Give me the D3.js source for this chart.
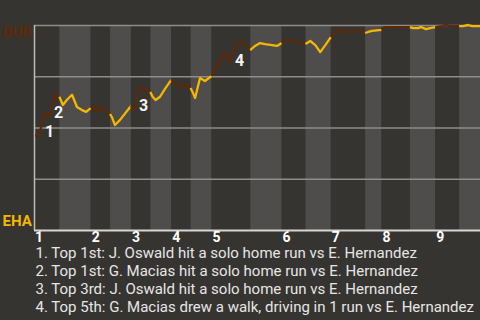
<!DOCTYPE html>
<html><head><meta charset="utf-8">
<script src="https://cdn.jsdelivr.net/npm/d3@7"></script>
<style>
html,body{margin:0;padding:0;background:#363431;}
svg{display:block;font-family:Roboto, "Noto Sans", sans-serif;}
</style></head><body>
<svg id="c" width="480" height="320"></svg>
<script>
// pitches per half inning (top 1st, bottom 1st, top 2nd, ...)
const halfInningPitches = [17,21,13,14,13,14,13,14,26,21,16,17,23,11,19,17,16,14];
const inningLabels = ["1","2","3","4","5","6","7","8","9"];
const awayTeam = "DUB";
const homeTeam = "EHA";
const gridValues = [25,50,75,100];
// [pitch index, DUB win probability %]
const wpPoints = [
  [0.7,46],[3.4,46],[4.7,50],[5.4,53],[7.4,57],[10,57],[11.4,56],[14,66],[17,65],
  [19.4,61],[22,63.4],[25.5,66],[28.8,60],[32.2,58.5],[35,57.6],[38,59.5],
  [39.6,60],[42.2,58],[44.2,60.5],[46.9,58.5],[51,56.6],
  [52.5,54.6],[54.3,51.2],[57.7,53.7],[65,60.5],
  [66.4,58.5],[68.4,60],[71,69.8],[74.4,68.8],[78,67.3],
  [79.5,65],[81.5,63.4],[84.5,65],[87.8,68.8],[92,73.2],
  [94.5,71.7],[97.9,69.8],[101.2,71.2],[105,69.3],
  [106.5,67],[108,64.4],[111.3,74.1],[114.6,72.7],[119,75.1],
  [121.3,78],[128,86.8],[131.4,82],[134.7,89.3],[138.1,92.7],[145,87.8],
  [148.2,89.8],[151.5,91.2],[154.9,90.7],[159.6,90.2],[162.9,89.8],[166,91.2],
  [169.1,92.7],[172.5,92.2],[175.8,91.7],[179.2,91.2],[182,90.7],
  [185.2,92.2],[188.6,90.2],[191.9,86.8],[195.3,90.2],[199,94.1],
  [202,96.6],[205.3,97.1],[209.4,96.6],[213.4,96.6],[216.8,97.1],[222,96.1],
  [224,96.6],[226.6,97.1],[233,97.6],
  [235.3,99],[252,99],
  [254,98.5],[257.4,98.5],[259.4,99],[262.8,98],[265.5,98.5],[269,99],
  [273.5,99.5],[276.2,100],[278.9,99.5],[285,99.5],
  [287.7,99.5],[291,100],[293.7,99.5],[299,99.5]
];
// key events: [pitch index, win prob %]
const eventNums = ["1","2","3","4"];
const eventPos = [[7.4,46.8],[13.4,56.1],[70.4,59.5],[134.7,81.5]];
const eventTexts = [
  "1. Top 1st: J. Oswald hit a solo home run vs E. Hernandez",
  "2. Top 1st: G. Macias hit a solo home run vs E. Hernandez",
  "3. Top 3rd: J. Oswald hit a solo home run vs E. Hernandez",
  "4. Top 5th: G. Macias drew a walk, driving in 1 run vs E. Hernandez"
];

const svg = d3.select("#c");
const W = 480, H = 320;
const m = {left:34, right:0, top:25, bottom:90};
const total = d3.sum(halfInningPitches);
const x = d3.scaleLinear().domain([0,total]).range([m.left, W-m.right]);
const y = d3.scaleLinear().domain([0,100]).range([H-m.bottom, m.top]);
const awayColor = "#5c2a08", homeColor = "#f5b700";

const starts = d3.cumsum([0, ...halfInningPitches]);
const halves = halfInningPitches.map((n,i)=>({i, s:starts[i], e:starts[i+1]}));

svg.append("rect").attr("width",W).attr("height",H).attr("fill","#363431");

svg.append("g").selectAll("rect").data(halves).join("rect")
  .attr("x", d=>x(d.s)).attr("width", d=>x(d.e)-x(d.s))
  .attr("y", y(100)).attr("height", y(0)-y(100))
  .attr("fill", d=> d.i%2===0 ? "#363431" : "#4e4d4b");

svg.append("g").selectAll("line").data(gridValues).join("line")
  .attr("x1", x(0)).attr("x2", x(total))
  .attr("y1", d=>y(d)+0.5).attr("y2", d=>y(d)+0.5)
  .attr("stroke", "#8e8d8b").attr("stroke-width",1.5);

// axes
svg.append("line").attr("x1", x(0)+0.5).attr("x2", x(0)+0.5)
  .attr("y1", y(100)).attr("y2", y(0)).attr("stroke","#bdbdbd").attr("stroke-width",1.5);
svg.append("line").attr("x1", x(0)).attr("x2", x(total))
  .attr("y1", y(0)+0.5).attr("y2", y(0)+0.5).attr("stroke","#d6d6d6").attr("stroke-width",2);

const line = d3.line().x(d=>x(d[0])).y(d=>y(d[1]));
svg.append("g").selectAll("path").data(halves).join("path")
  .attr("d", h => line(wpPoints.filter(p=>p[0]>=h.s && p[0]<=h.e)))
  .attr("fill","none")
  .attr("stroke", h=> h.i%2===0 ? awayColor : homeColor)
  .attr("stroke-width", 2.3).attr("stroke-linejoin","round");

svg.append("text").attr("x",2.5).attr("y",36.5).text(awayTeam)
  .attr("fill",awayColor).attr("font-weight","bold").attr("font-size",15);
svg.append("text").attr("x",2.5).attr("y",226).text(homeTeam)
  .attr("fill",homeColor).attr("font-weight","bold").attr("font-size",15);

svg.append("g").selectAll("text").data(inningLabels).join("text")
  .attr("x", (d,i)=>x(starts[i*2])+1).attr("y", 242)
  .attr("fill","#ffffff").attr("font-weight","bold").attr("font-size",14)
  .text(d=>d);

svg.append("g").selectAll("text").data(eventNums).join("text")
  .attr("x", (d,i)=>x(eventPos[i][0])).attr("y", (d,i)=>y(eventPos[i][1])+3)
  .attr("fill","#f2f2f2").attr("font-weight","bold").attr("font-size",16)
  .text(d=>d);

svg.append("g").selectAll("text").data(eventTexts).join("text")
  .attr("x", 35.5).attr("y", (d,i)=>258.3 + i*17.8)
  .attr("fill","#e6e6e6").attr("font-size",15)
  .text(d=>d);
</script>
</body></html>
